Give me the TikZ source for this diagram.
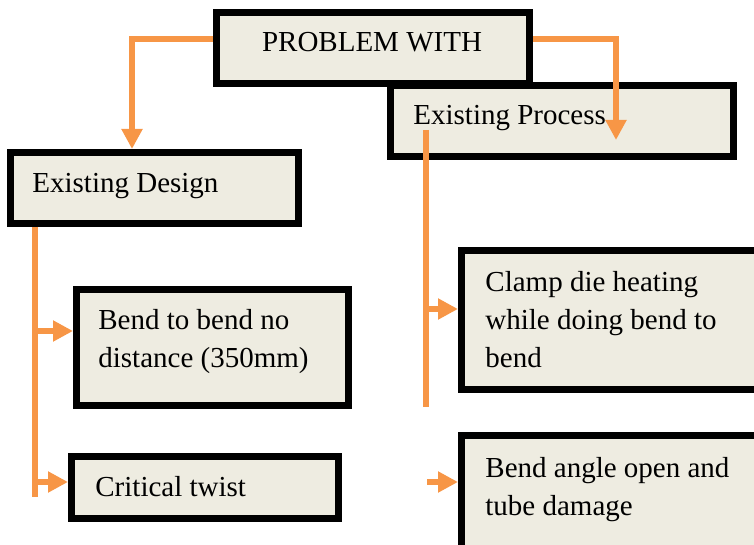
\documentclass[tikz,border=0pt]{standalone}
\usepackage{fontspec}
\setmainfont{Liberation Serif}
\usetikzlibrary{arrows.meta}
\definecolor{boxfill}{HTML}{EEECE1}
\definecolor{linkorange}{HTML}{F79646}
\begin{document}
\begin{tikzpicture}[x=0.5pt,y=-0.5pt,
        box/.style={draw=black,line width=3.5pt,fill=boxfill,inner sep=0pt},
        txt/.style={anchor=base west,align=left,inner sep=0pt,font=\fontsize{14.5}{19}\selectfont},
        linkline/.style={draw=linkorange,line width=3pt},
        link/.style={linkline,-{Triangle[width=10pt,length=10pt]}}]
        \useasboundingbox (0,0) rectangle (754,545);
        \node[box,minimum width=171.5pt,minimum height=35.5pt] (process) at (562,121) {};
        \node[box,minimum width=156.5pt,minimum height=35.5pt] (problem) at (373,48) {};
        \node[box,minimum width=144pt,minimum height=35.5pt] (design) at (154.5,188) {};
        \node[box,minimum width=136pt,minimum height=58pt] (bend) at (212.5,347.5) {};
        \node[box,minimum width=133.5pt,minimum height=31pt] (twist) at (205,487.5) {};
        \node[box,minimum width=149.25pt,minimum height=69.5pt] (clamp) at (610.75,320) {};
        \node[box,minimum width=149.25pt,minimum height=56.25pt] (angle) at (610.75,491.75) {};
        \node[txt,anchor=base] (problemtxt) at (372,52) {PROBLEM WITH};
        \node[txt] (processtxt) at (413,125) {Existing Process};
        \node[txt] (designtxt) at (32,192) {Existing Design};
        \node[txt] (bendtxt) at (98,367) {Bend to bend no\\distance (350mm)};
        \node[txt] (twisttxt) at (95,496) {Critical twist};
        \node[txt] (clamptxt) at (485,367) {Clamp die heating\\while doing bend to\\bend};
        \node[txt] (angletxt) at (485,515) {Bend angle open and\\tube damage};
        \coordinate (lcorner) at (132,39);
        \coordinate (rcorner) at (616,39);
        \coordinate (rtip) at (616,140);
        \draw[link] (problem.west |- lcorner) -- (lcorner) -- (lcorner |- design.north);
        \draw[link] (problem.east |- rcorner) -- (rcorner) -- (rtip);
        \coordinate (ptop) at (426,130);
        \coordinate (pbot) at (426,407);
        \coordinate (pfork) at (426,309);
        \coordinate (pfree) at (427,482);
        \draw[linkline] (ptop) -- (pbot);
        \draw[link] (pfork) -- (pfork -| clamp.west);
        \draw[link] (pfree) -- (pfree -| angle.west);
        \coordinate (dbot) at (35,497);
        \coordinate (dfork) at (35,331);
        \coordinate (tfork) at (35,482);
        \draw[linkline] (design.south -| dbot) -- (dbot);
        \draw[link] (dfork) -- (dfork -| bend.west);
        \draw[link] (tfork) -- (tfork -| twist.west);
    \end{tikzpicture}
\end{document}
